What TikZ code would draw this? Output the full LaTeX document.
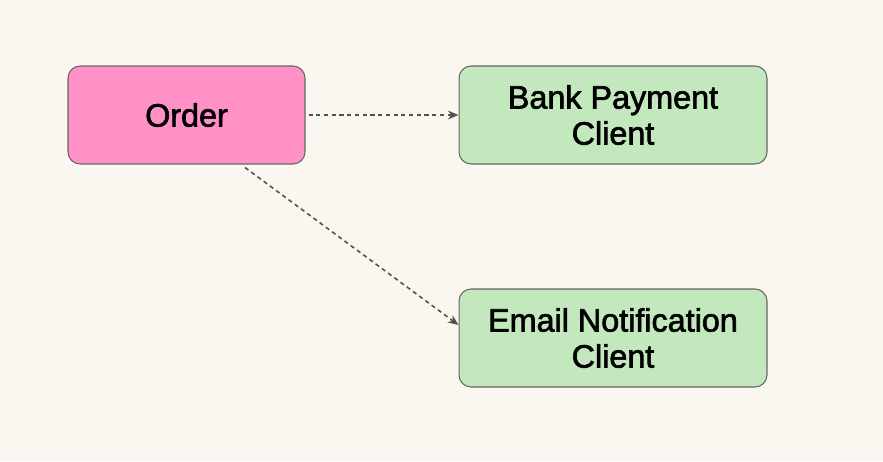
\documentclass[tikz,border=0pt]{standalone}
\usepackage{fontspec}
\setmainfont{Liberation Sans}
\newfontfamily\boxfont[FakeBold=2]{Liberation Sans}
\usetikzlibrary{arrows.meta,positioning,calc}
\definecolor{bgcol}{HTML}{FAF7F0}
\definecolor{ordercol}{HTML}{FF91C6}
\definecolor{clientcol}{HTML}{C3E8BD}
\definecolor{edgecol}{HTML}{666666}
\tikzset{
  box/.style={draw=edgecol, line width=0.6pt, rounded corners=0.24cm, align=center,
    inner sep=0pt, font=\boxfont\fontsize{18.4}{20.5}\selectfont},
  link/.style={draw=edgecol!80!black, line width=0.9pt, dash pattern=on 2.4pt off 2pt,
    -{Stealth[length=6pt,width=5pt]}}
}
\begin{document}
\begin{tikzpicture}[x=0.02cm, y=-0.02cm]
\useasboundingbox[fill=bgcol] (0,0) rectangle (883,461);
\node[box, fill=ordercol, minimum width=4.74cm, minimum height=1.96cm]   (order) at (186.5,115) {Order};
\node[box, fill=clientcol, minimum width=6.16cm, minimum height=1.96cm]  (bank)  at (613,115)   {Bank Payment\\Client};
\node[box, fill=clientcol, minimum width=6.16cm, minimum height=1.96cm]  (email) at (613,338)   {Email Notification\\Client};
\draw[link, shorten <=0.06cm] (order.east) -- (bank.west);
\draw[link] ([xshift=1.17cm, yshift=-0.06cm]order.south) -- ([yshift=0.26cm]email.west);
\end{tikzpicture}
\end{document}
